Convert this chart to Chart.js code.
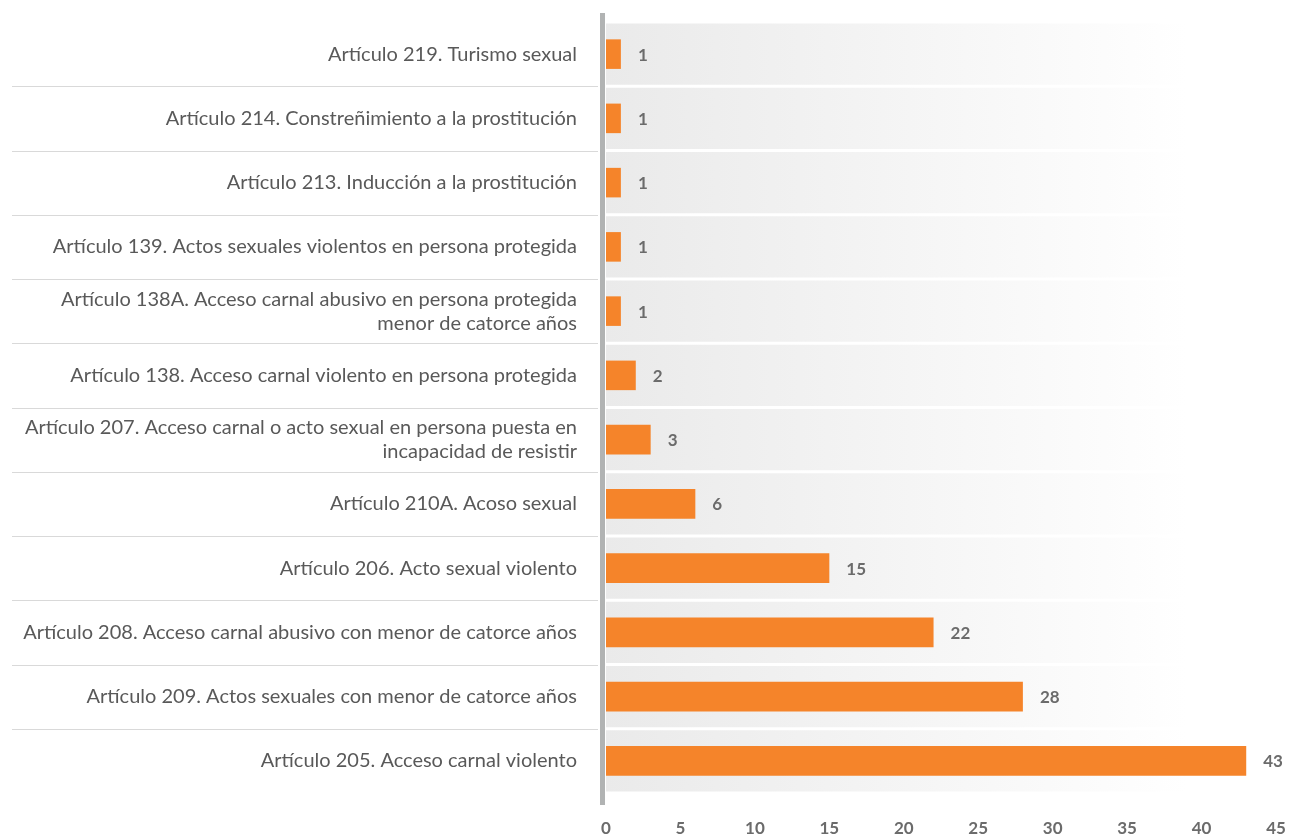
<!DOCTYPE html>
<html lang="es">
<head>
<meta charset="utf-8">
<script src="https://cdn.jsdelivr.net/npm/chart.js"></script>
<style>
  html, body { margin: 0; padding: 0; background: #ffffff; }
  .wrap { width: 1298px; height: 836px; position: relative; }
</style>
</head>
<body>
<div class="wrap"><canvas id="chart" width="1298" height="836"></canvas></div>
<script>
// categories, top to bottom
const categories = [
  'Artículo 219. Turismo sexual',
  'Artículo 214. Constreñimiento a la prostitución',
  'Artículo 213. Inducción a la prostitución',
  'Artículo 139. Actos sexuales violentos en persona protegida',
  ['Artículo 138A. Acceso carnal abusivo en persona protegida', 'menor de catorce años'],
  'Artículo 138. Acceso carnal violento en persona protegida',
  ['Artículo 207. Acceso carnal o acto sexual en persona puesta en', 'incapacidad de resistir'],
  'Artículo 210A. Acoso sexual',
  'Artículo 206. Acto sexual violento',
  'Artículo 208. Acceso carnal abusivo con menor de catorce años',
  'Artículo 209. Actos sexuales con menor de catorce años',
  'Artículo 205. Acceso carnal violento'
];
const values = [1, 1, 1, 1, 1, 2, 3, 6, 15, 22, 28, 43];
const xTicks = [0, 5, 10, 15, 20, 25, 30, 35, 40, 45];

const numFont = 'bold 17px Lato, "DejaVu Sans", sans-serif';

// gray gradient bands behind each row, separators in the label area, axis line
const decor = {
  id: 'decor',
  beforeDatasetsDraw(chart) {
    const { ctx, chartArea: a, scales: { x, y } } = chart;
    const step = y.getPixelForValue(1) - y.getPixelForValue(0);
    ctx.save();
    const g = ctx.createLinearGradient(a.left, 0, x.getPixelForValue(39), 0);
    g.addColorStop(0, '#eaeaea');
    g.addColorStop(1, '#ffffff');
    ctx.fillStyle = g;
    categories.forEach((c, i) => {
      const cy = y.getPixelForValue(i);
      ctx.fillRect(a.left, cy - step / 2 + 1.5, a.right - a.left, step - 3);
    });
    ctx.strokeStyle = '#d9d9d9';
    ctx.lineWidth = 1;
    for (let i = 0; i < categories.length - 1; i++) {
      const yy = Math.round(y.getPixelForValue(i) + step / 2) + 0.5;
      ctx.beginPath();
      ctx.moveTo(12, yy);
      ctx.lineTo(a.left - 8, yy);
      ctx.stroke();
    }
    ctx.fillStyle = '#b1b3b3';
    ctx.fillRect(a.left - 6, a.top - 9, 5, a.bottom - a.top + 21);
    ctx.restore();
  },
  afterDatasetsDraw(chart) {
    const { ctx } = chart;
    const meta = chart.getDatasetMeta(0);
    ctx.save();
    ctx.font = numFont;
    ctx.fillStyle = '#6b6b6b';
    ctx.textAlign = 'left';
    ctx.textBaseline = 'middle';
    meta.data.forEach((bar, i) => {
      ctx.fillText(values[i], bar.x + 17, bar.y + 1);
    });
    ctx.restore();
  }
};

new Chart(document.getElementById('chart'), {
  type: 'bar',
  data: {
    labels: categories,
    datasets: [{
      data: values,
      backgroundColor: '#f5842a',
      borderWidth: 0,
      categoryPercentage: 1,
      barPercentage: 0.46
    }]
  },
  options: {
    indexAxis: 'y',
    responsive: false,
    animation: false,
    layout: { padding: { top: 22, right: 22, left: 0, bottom: 0 } },
    plugins: { legend: { display: false }, tooltip: { enabled: false } },
    scales: {
      x: {
        min: 0,
        max: 45,
        afterBuildTicks(scale) { scale.ticks = xTicks.map(v => ({ value: v })); },
        grid: { display: false, drawTicks: false },
        border: { display: false },
        afterFit(scale) {
          scale.height = 43;
          scale.paddingLeft = 0;
          scale.paddingRight = 0;
        },
        ticks: {
          padding: 25,
          color: '#6b6b6b',
          font: { family: 'Lato, "DejaVu Sans", sans-serif', size: 17, weight: 'bold' }
        }
      },
      y: {
        grid: { display: false, drawTicks: false },
        border: { display: false },
        afterFit(scale) {
          scale.width = 606;
          scale.paddingTop = 0;
          scale.paddingBottom = 0;
        },
        ticks: {
          padding: 29,
          color: '#595959',
          crossAlign: 'near',
          font: { family: 'Lato, sans-serif', size: 20, lineHeight: 1.2 }
        }
      }
    }
  },
  plugins: [decor]
});
</script>
</body>
</html>
